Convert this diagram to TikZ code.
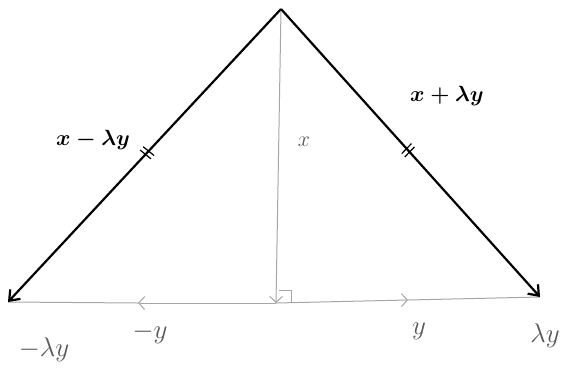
\RequirePackage{fix-cm}
\documentclass[tikz,border=0pt]{standalone}
\usetikzlibrary{arrows.meta,decorations.markings}
\begin{document}
\begin{tikzpicture}[x=1pt,y=-1pt,
  main/.style={line width=2.2pt, black, -{Straight Barb[length=9pt,width=14pt,line width=2.2pt]}},
  guide/.style={draw=gray!70, line width=1pt},
  guidearrow/.style={guide, -{Straight Barb[length=6pt,width=13pt,line width=1pt]}},
  lab/.style={font=\fontsize{22}{26}\selectfont\boldmath, inner sep=0pt},
  sublab/.style={font=\fontsize{27}{32}\selectfont, inner sep=0pt, text=gray!70!black},
  ticks/.style={postaction={decorate, decoration={markings, mark=at position #1 with {
      \draw[-, line width=1.2pt] (-2.5,-7) -- (-1.5,7);
      \draw[-, line width=1.2pt] (2,-7) -- (3,7);}}}}
]
\useasboundingbox (0,0) rectangle (562,386);
\coordinate (apex) at (281,9);
\coordinate (L) at (8,302);
\coordinate (R) at (540,297);
\coordinate (foot) at (276,303);
\coordinate (my) at (138,303);
\coordinate (py) at (408,300);
% guides
\draw[guide] (my) -- (L);
\draw[guide] (py) -- (R);
\draw[guidearrow] (foot) -- (my);
\draw[guidearrow] (foot) -- (py);
\draw[guidearrow] (apex) -- (foot);
% right angle
\draw[guide] (279,290) -- (291,290) -- (291,303);
% diagonals
\draw[main, ticks=0.49] (apex) -- (L);
\draw[main, ticks=0.49] (apex) -- (R);
% labels
\node[lab] (lxm) at (93,140) {$x-\lambda y$};
\node[lab] (lxp) at (447,96) {$x+\lambda y$};
\node[sublab, font=\fontsize{22}{26}\selectfont] (lx) at (304,142) {$x$};
\node[sublab] (lmly) at (44,350) {$-\lambda y$};
\node[sublab] (lmy) at (150,333) {$-y$};
\node[sublab] (ly) at (419,331) {$y$};
\node[sublab] (lly) at (545,336) {$\lambda y$};
\end{tikzpicture}
\end{document}
